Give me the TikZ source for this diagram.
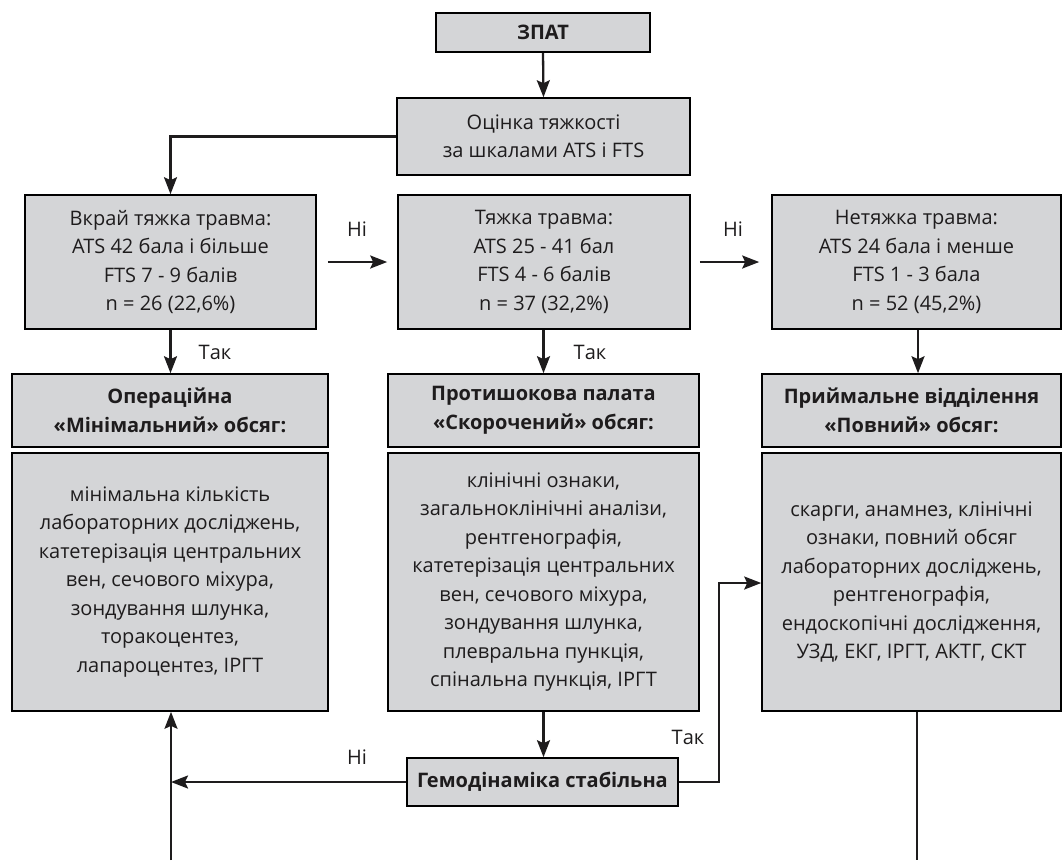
\documentclass[tikz,border=0pt]{standalone}
\usepackage{fontspec}
\setmainfont{Open Sans}
\usetikzlibrary{arrows.meta}
\definecolor{boxfill}{RGB}{212,213,215}
\definecolor{txt}{RGB}{30,28,29}
\begin{document}
\begin{tikzpicture}[x=1pt,y=-1pt,
  box/.style={draw=black, line width=1.6pt, fill=boxfill, inner sep=0pt, align=center, text=txt,
    font=\fontsize{20}{28.5}\selectfont},
  bbox/.style={box, font=\fontsize{20}{28.5}\selectfont\bfseries},
  conn/.style={line width=2.3pt, draw=txt},
  arr/.style={conn, -{Stealth[length=17pt,width=13pt,inset=3pt]}},
  lbl/.style={text=txt, font=\fontsize{20}{24}\selectfont, inner sep=0pt}]
\useasboundingbox (0,0) rectangle (1062,860);
% boxes
\node[bbox, minimum width=214pt, minimum height=39pt] (zpat) at (543,32.5) {ЗПАТ};
\node[box, minimum width=293pt, minimum height=77pt] (ocin) at (543.5,136.5) {Оцінка тяжкості\\за шкалами ATS і FTS};
\node[box, minimum width=291pt, minimum height=134pt] (vkr) at (170.5,262) {Вкрай тяжка травма:\\ATS 42 бала і більше\\FTS 7 - 9 балів\\n = 26 (22,6\%)};
\node[box, minimum width=292pt, minimum height=134pt] (tyz) at (544,262) {Тяжка травма:\\ATS 25 - 41 бал\\FTS 4 - 6 балів\\n = 37 (32,2\%)};
\node[box, minimum width=289pt, minimum height=134pt] (net) at (916.5,262) {Нетяжка травма:\\ATS 24 бала і менше\\FTS 1 - 3 бала\\n = 52 (45,2\%)};
\node[bbox, minimum width=316pt, minimum height=73pt] (h1) at (170,410.5) {Операційна\\«Мінімальний» обсяг:};
\node[bbox, minimum width=311pt, minimum height=73pt] (h2) at (543.5,410.5) {Протишокова палата\\«Скорочений» обсяг:};
\node[bbox, minimum width=299pt, minimum height=73pt] (h3) at (911.5,410.5) {Приймальне відділення\\«Повний» обсяг:};
\node[box, minimum width=316pt, minimum height=258pt] (c1) at (170,582) {мінімальна кількість\\лабораторних досліджень,\\катетерізація центральних\\вен, сечового міхура,\\зондування шлунка,\\торакоцентез,\\лапароцентез, ІРГТ};
\node[box, minimum width=311pt, minimum height=258pt] (c2) at (543.5,582) {клінічні ознаки,\\загальноклінічні аналізи,\\рентгенографія,\\катетерізація центральних\\вен, сечового міхура,\\зондування шлунка,\\плевральна пункція,\\спінальна пункція, ІРГТ};
\node[box, minimum width=299pt, minimum height=258pt] (c3) at (911.5,582) {скарги, анамнез, клінічні\\ознаки, повний обсяг\\лабораторних досліджень,\\рентгенографія,\\ендоскопічні дослідження,\\УЗД, ЕКГ, ІРГТ, АКТГ, СКТ};
\node[bbox, minimum width=271pt, minimum height=48pt] (gemo) at (542.5,782) {Гемодінаміка стабільна};
% free ends
\coordinate (bl) at (171,860);
\coordinate (br) at (917,860);
\coordinate (jl) at (171,782);
\coordinate (jr) at (719,782);
\coordinate (jr2) at (719,583);
% connectors
\draw[arr] (zpat.south) -- (ocin.north);
\draw[arr] (ocin.west) -| (vkr.north);
\draw[arr, shorten <=11pt, shorten >=10pt] (vkr.east) -- (tyz.west);
\draw[arr, shorten <=9pt, shorten >=12pt] (tyz.east) -- (net.west);
\draw[arr] (vkr.south) -- (h1.north -| vkr.south);
\draw[arr] (tyz.south -| h2.north) -- (h2.north);
\draw[arr] (net.south -| 918,0) -- (h3.north -| 918,0);
\draw[arr] (c2.south) -- (gemo.north -| c2.south);
\draw[arr] (gemo.west) -- (jl);
\draw[arr] (bl) -- (c1.south -| bl);
\draw[arr] (gemo.east) -- (jr) -- (jr2) -- (c3.west |- jr2);
\draw[conn] (c3.south -| br) -- (br);
% labels
\node[lbl] (l1) at (357,229) {Ні};
\node[lbl] (l2) at (733,229) {Ні};
\node[lbl] (l3) at (215,352) {Так};
\node[lbl] (l4) at (590,352) {Так};
\node[lbl] (l5) at (357,757) {Ні};
\node[lbl] (l6) at (688,737) {Так};
\end{tikzpicture}
\end{document}
